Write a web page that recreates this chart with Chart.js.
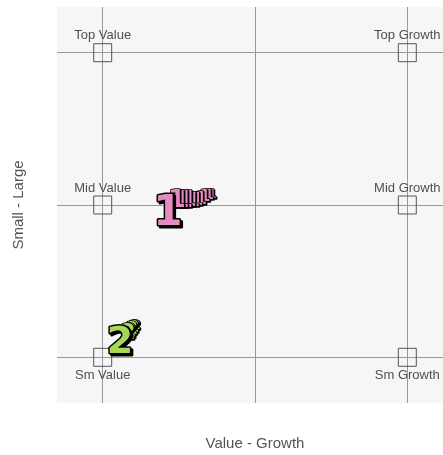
<!DOCTYPE html>
<html>
<head>
<meta charset="utf-8">
<script src="https://cdn.jsdelivr.net/npm/chart.js@4/dist/chart.umd.min.js"></script>
<style>
  html, body { margin: 0; padding: 0; background: #fff; overflow: hidden; }
  canvas { display: block; }
</style>
</head>
<body>
<canvas id="styleBox" width="453" height="455" style="width:453px;height:455px"></canvas>
<script>
// style box corners
const boxLabels = ['Top Value', 'Top Growth', 'Mid Value', 'Mid Growth', 'Sm Value', 'Sm Growth'];
const boxX = [-1, 1, -1, 1, -1, 1];
const boxY = [1, 1, 0, 0, -1, -1];
const gridTicks = [-1, 0, 1];

// fund history, oldest first, last one is the current position
const fund1X = [-0.282, -0.302, -0.328, -0.355, -0.381, -0.407, -0.433, -0.460, -0.486, -0.512, -0.572];
const fund1Y = [0.070, 0.062, 0.050, 0.038, 0.030, 0.028, 0.028, 0.028, 0.028, 0.028, -0.060];
const fund2X = [-0.781, -0.794, -0.808, -0.821, -0.834, -0.886];
const fund2Y = [-0.794, -0.808, -0.821, -0.834, -0.847, -0.905];

const toPoints = (xs, ys) => xs.map((x, i) => ({ x: x, y: ys[i] }));

Chart.defaults.font.family = '"Liberation Sans", Arial, sans-serif';

const plotBg = {
    id: 'plotBg',
    beforeDraw(chart) {
        const { ctx, chartArea: a } = chart;
        ctx.save();
        ctx.fillStyle = '#f6f6f6';
        ctx.fillRect(a.left, a.top, a.right - a.left, a.bottom - a.top);
        ctx.restore();
    }
};

const boxText = {
    id: 'boxText',
    afterDatasetsDraw(chart) {
        const ctx = chart.ctx;
        const meta = chart.getDatasetMeta(0);
        ctx.save();
        ctx.font = '13px "Liberation Sans", Arial, sans-serif';
        ctx.fillStyle = '#505050';
        ctx.textAlign = 'center';
        ctx.textBaseline = 'middle';
        meta.data.forEach((pt, i) => {
            const below = boxY[i] < 0;
            ctx.fillText(boxLabels[i], pt.x, below ? pt.y + 18 : pt.y - 17);
        });
        ctx.restore();
    }
};

// draw each fund point as an outlined digit, trail grows toward the latest
const fundGlyphs = {
    id: 'fundGlyphs',
    afterDatasetsDraw(chart) {
        const ctx = chart.ctx;
        const a = chart.chartArea;
        ctx.save();
        ctx.beginPath();
        ctx.rect(a.left, a.top, a.right - a.left, a.bottom - a.top);
        ctx.clip();
        ctx.textAlign = 'center';
        ctx.textBaseline = 'middle';
        ctx.lineJoin = 'round';
        chart.data.datasets.forEach((ds, di) => {
            if (!ds.glyph) return;
            const pts = chart.getDatasetMeta(di).data;
            const n = pts.length;
            pts.forEach((pt, i) => {
                const last = i === n - 1;
                const size = last ? ds.mainSize : ds.trailMin + (ds.trailMax - ds.trailMin) * i / Math.max(1, n - 2);
                const off = last ? 2 : 1;
                ctx.font = 'bold ' + size + 'px "DejaVu Sans", sans-serif';
                ctx.strokeStyle = '#000';
                ctx.fillStyle = '#000';
                ctx.lineWidth = last ? 3 : 1.6;
                ctx.fillText(ds.glyph, pt.x + off, pt.y + off);
                ctx.strokeText(ds.glyph, pt.x + off, pt.y + off);
                ctx.strokeText(ds.glyph, pt.x, pt.y);
                ctx.fillStyle = ds.glyphColor;
                ctx.fillText(ds.glyph, pt.x, pt.y);
            });
        });
        ctx.restore();
    }
};

const ctx = document.getElementById('styleBox').getContext('2d');

new Chart(ctx, {
    type: 'scatter',
    data: {
        datasets: [
            {
                label: 'Style box',
                data: toPoints(boxX, boxY),
                pointStyle: 'rect',
                pointRadius: 12.7,
                pointHoverRadius: 12.7,
                borderColor: '#555',
                borderWidth: 1,
                backgroundColor: 'rgba(0,0,0,0)'
            },
            {
                label: 'Fund 1',
                data: toPoints(fund1X, fund1Y),
                pointRadius: 0,
                glyph: '1',
                glyphColor: '#e78ac3',
                trailMin: 13,
                trailMax: 25,
                mainSize: 42
            },
            {
                label: 'Fund 2',
                data: toPoints(fund2X, fund2Y),
                pointRadius: 0,
                glyph: '2',
                glyphColor: '#a6d854',
                trailMin: 13,
                trailMax: 21,
                mainSize: 38
            }
        ]
    },
    options: {
        responsive: false,
        animation: false,
        devicePixelRatio: 1,
        layout: { autoPadding: false, padding: { top: 7, right: 0, bottom: 0, left: 0 } },
        plugins: {
            legend: { display: false },
            tooltip: { enabled: false }
        },
        scales: {
            x: {
                type: 'linear',
                min: -1.3,
                max: 1.3,
                afterBuildTicks: s => { s.ticks = gridTicks.map(v => ({ value: v })); },
                ticks: { display: false },
                grid: { color: '#999', lineWidth: 1, drawTicks: false },
                border: { display: false },
                title: {
                    display: true,
                    text: 'Value - Growth',
                    color: '#555',
                    font: { size: 15 },
                    padding: { top: 32, bottom: 2 }
                }
            },
            y: {
                type: 'linear',
                min: -1.3,
                max: 1.3,
                afterBuildTicks: s => { s.ticks = gridTicks.map(v => ({ value: v })); },
                ticks: { display: false },
                grid: { color: '#999', lineWidth: 1, drawTicks: false },
                border: { display: false },
                title: {
                    display: true,
                    text: 'Small - Large',
                    color: '#555',
                    font: { size: 15 },
                    padding: { top: 10, bottom: 29 }
                }
            }
        }
    },
    plugins: [plotBg, boxText, fundGlyphs]
});
</script>
</body>
</html>
